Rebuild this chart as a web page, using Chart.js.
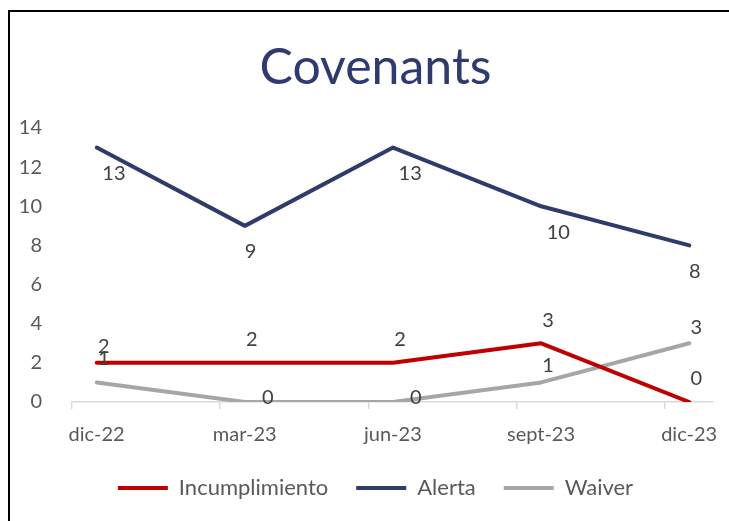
<!DOCTYPE html>
<html><head><meta charset="utf-8">
<script src="https://cdn.jsdelivr.net/npm/chart.js@4.4.1/dist/chart.umd.min.js"></script>
<style>
html,body{margin:0;padding:0;background:#fff;overflow:hidden;}
#wrap{position:relative;width:729px;height:521px;overflow:hidden;}
#frame{position:absolute;left:8px;top:10px;width:760px;height:560px;border-top:2px solid #000;border-left:2px solid #000;pointer-events:none;}
canvas{position:absolute;left:8px;top:0;}
</style></head>
<body><div id="wrap"><canvas id="c" width="735" height="521"></canvas><div id="frame"></div></div>
<script>
const categories = ['dic-22','mar-23','jun-23','sept-23','dic-23'];
const incumplimiento = [2,2,2,3,0];
const alerta = [13,9,13,10,8];
const waiver = [1,0,0,1,3];
const yTicks = [0,2,4,6,8,10,12,14];
const seriesNames = ['Incumplimiento','Alerta','Waiver'];

// label placement (style only)
const incumplLabelPos = ['above','above','above','above','above'];
const incumplLabelRise = [16,23,23,23,23];
const alertaLabelPos = ['below','below','below','below','below'];
const waiverLabelPos = ['above','right','right','above','above'];
const waiverLabelRise = [24,0,0,17,16];

const FONT = 'Lato';
const TICK_SHIFT = 0.167;

function pts(arr){ return arr.map((v,i)=>({x:i,y:v})); }

const labelPlugin = {
  id:'valueLabels',
  afterLayout(chart){
    if (chart.legend){ chart.legend.top -= 12; chart.legend.bottom -= 12; }
  },
  afterDatasetsDraw(chart){
    const ctx = chart.ctx;
    ctx.save();
    ctx.font = '20px ' + FONT;
    ctx.fillStyle = '#404040';
    ctx.textAlign = 'center';
    ctx.textBaseline = 'middle';
    chart.data.datasets.forEach((ds,di)=>{
      const meta = chart.getDatasetMeta(di);
      meta.data.forEach((el,i)=>{
        const txt = String(ds.data[i].y);
        const w = ctx.measureText(txt).width;
        const pos = ds.labelPos[i];
        let x = el.x, y = el.y;
        if (pos === 'below'){ x += w - 6; y += 26; }
        else if (pos === 'above'){ x += 7; y -= ds.labelRise[i]; }
        else if (pos === 'right'){ x += 17 + w/2; y -= 4; }
        ctx.fillText(txt, x, y);
      });
    });
    ctx.restore();
  }
};

const common = {borderWidth:4, pointRadius:0, pointHoverRadius:0, tension:0, borderCapStyle:'round', borderJoinStyle:'round', fill:false};

new Chart(document.getElementById('c'), {
  type:'line',
  data:{
    datasets:[
      Object.assign({label:seriesNames[0], data:pts(incumplimiento), borderColor:'#C00000', backgroundColor:'#C00000', labelPos:incumplLabelPos, labelRise:incumplLabelRise}, common),
      Object.assign({label:seriesNames[1], data:pts(alerta), borderColor:'#2E3B6B', backgroundColor:'#2E3B6B', labelPos:alertaLabelPos, labelRise:[]}, common),
      Object.assign({label:seriesNames[2], data:pts(waiver), borderColor:'#A6A6A6', backgroundColor:'#A6A6A6', labelPos:waiverLabelPos, labelRise:waiverLabelRise}, common)
    ]
  },
  options:{
    responsive:false,
    animation:false,
    layout:{padding:{left:0, right:0, top:38, bottom:0}},
    plugins:{
      tooltip:{enabled:false},
      title:{display:true, text:'Covenants', color:'#2F3B6E', font:{family:FONT, size:50, weight:'normal'}, padding:{top:0,bottom:30}},
      legend:{position:'bottom', labels:{usePointStyle:true, pointStyle:'line', pointStyleWidth:50, boxHeight:20, padding:28, color:'#595959', font:{family:FONT, size:22}}}
    },
    scales:{
      x:{
        type:'linear', min:-TICK_SHIFT, max:4.16,
        afterBuildTicks(s){ s.ticks = categories.map((c,i)=>({value:i-TICK_SHIFT})); },
        ticks:{callback:(v,i)=>categories[i], labelOffset:24.6, color:'#595959', font:{family:FONT,size:20}, padding:14, maxRotation:0, autoSkip:false},
        grid:{display:true, drawOnChartArea:false, drawTicks:true, tickLength:7, color:'#D9D9D9', lineWidth:1.5},
        border:{display:true, color:'#D9D9D9', width:1.5}
      },
      y:{
        min:0, max:14,
        afterBuildTicks(s){ s.ticks = yTicks.map(v=>({value:v})); },
        afterFit(s){ s.width = 64; },
        ticks:{color:'#595959', font:{family:FONT,size:20}, padding:22},
        grid:{display:false},
        border:{display:false}
      },
      yPad:{
        position:'right', min:0, max:1,
        afterFit(s){ s.width = 30; },
        ticks:{display:false},
        grid:{display:false},
        border:{display:false}
      }
    }
  },
  plugins:[labelPlugin]
});
</script>
</body></html>
